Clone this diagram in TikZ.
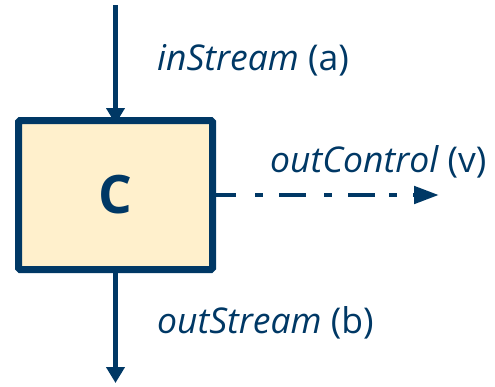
\documentclass[tikz,border=0pt]{standalone}
\usepackage{fontspec}
\setmainfont{Open Sans}
\usetikzlibrary{arrows.meta}
\definecolor{navy}{HTML}{003865}
\definecolor{cream}{HTML}{FFF0CC}
\tikzset{
  conn/.style={draw=navy, line width=4.8pt, -{Triangle[length=16pt,width=18pt]}},
  lbl/.style={text=navy, anchor=base west, inner sep=0pt, font=\fontsize{35.5}{38}\selectfont},
}
\begin{document}
\begin{tikzpicture}[x=1pt,y=-1pt]
\useasboundingbox (0,0) rectangle (495,386);
\node[draw=navy, fill=cream, line width=7pt, rounded corners=1.5pt, minimum width=194pt, minimum height=149pt, inner sep=0pt, outer sep=0pt, text=navy, font=\bfseries\fontsize{53}{56}\selectfont] (C) at (115.5,195) {C};
\coordinate (inS) at (115.5,5);
\coordinate (outS) at (115.5,383);
\coordinate (outC) at (439,195);
\draw[conn, shorten >=-3.5pt] (inS) -- (C.north);
\draw[conn, shorten <=3.5pt] (C.south) -- (outS);
\draw[conn, shorten <=3.5pt, dash pattern=on 20pt off 19pt on 8pt off 16pt on 27pt off 18pt on 8pt off 16pt on 27pt off 14pt on 8pt off 16pt on 27pt off 60pt, -{Triangle[length=25pt,width=17pt]}] (C.east |- outC) -- (outC);
\node[lbl] (t1) at (157,70) {\itshape inStream \normalfont(a)};
\node[lbl] (t2) at (270,172) {\itshape outControl \normalfont(v)};
\node[lbl] (t3) at (157,333) {\itshape outStream \normalfont(b)};
\end{tikzpicture}
\end{document}
